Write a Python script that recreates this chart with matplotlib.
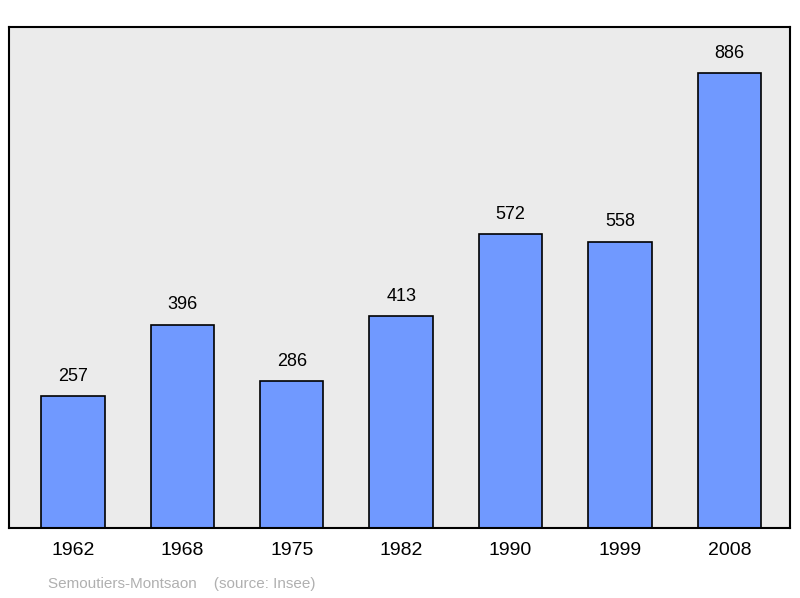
import matplotlib.pyplot as plt

years = ['1962', '1968', '1975', '1982', '1990', '1999', '2008']
population = [257, 396, 286, 413, 572, 558, 886]

plt.rcParams['font.family'] = ['Liberation Sans', 'DejaVu Sans']

fig = plt.figure(figsize=(8, 5.98), dpi=100)
ax = fig.add_axes([9/800, 1 - 528/598, 781/800, 501/598])
ax.set_facecolor('#ebebeb')

x = range(len(years))
ax.bar(x, population, width=0.58, color='#7099ff', edgecolor='black', linewidth=1.2)
for i, v in zip(x, population):
    ax.text(i, v + 22, str(v), ha='center', va='bottom', fontsize=13)

ax.set_xlim(-0.585, 6.555)
ax.set_ylim(0, 976)
ax.set_yticks([])
ax.set_xticks(list(x))
ax.set_xticklabels(years, fontsize=14)
ax.tick_params(axis='x', length=0, pad=10)
for s in ax.spines.values():
    s.set_linewidth(1.5)

fig.text(48/800, 1 - 584/598, 'Semoutiers-Montsaon    (source: Insee)',
         color='#b0b0b0', fontsize=11, va='center')

fig.savefig('out.png', dpi=100)
